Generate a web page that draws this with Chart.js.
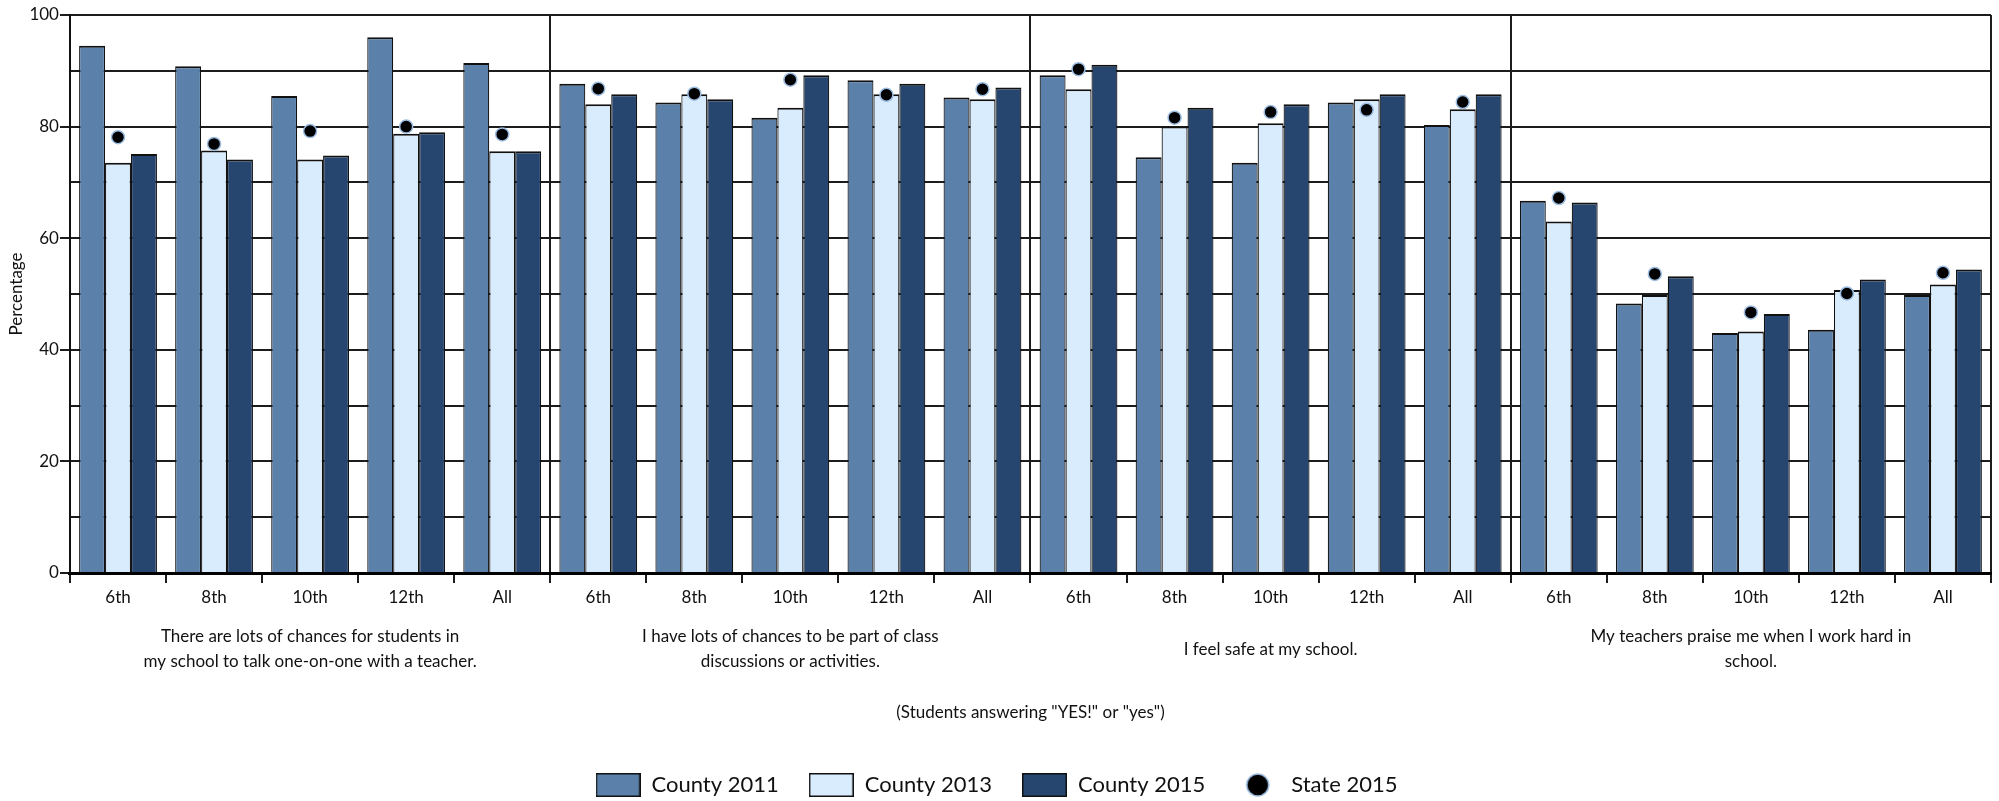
<!DOCTYPE html>
<html>
<head>
<meta charset="utf-8">
<script src="https://cdn.jsdelivr.net/npm/chart.js@4"></script>
<style>
  html, body { margin: 0; padding: 0; background: #fff; overflow: hidden; }
  #wrap { width: 1999px; height: 806px; position: relative; }
</style>
</head>
<body>
<div id="wrap"><canvas id="chart"></canvas></div>
<script>
const grades = ['6th', '8th', '10th', '12th', 'All'];
const questions = [
  ['There are lots of chances for students in', 'my school to talk one-on-one with a teacher.'],
  ['I have lots of chances to be part of class', 'discussions or activities.'],
  'I feel safe at my school.',
  ['My teachers praise me when I work hard in', 'school.']
];
const categories = questions.flatMap(() => grades);

const county2011 = [94.5, 90.8, 85.5, 96.0, 91.4, 87.7, 84.3, 81.6, 88.3, 85.2, 89.2, 74.5, 73.5, 84.3, 80.3, 66.7, 48.3, 43.0, 43.6, 49.8];
const county2013 = [73.5, 75.7, 74.1, 78.7, 75.6, 84.0, 85.8, 83.4, 85.8, 84.9, 86.7, 80.0, 80.6, 84.9, 83.1, 63.0, 49.8, 43.3, 50.7, 51.7];
const county2015 = [75.1, 74.1, 74.8, 79.0, 75.6, 85.8, 84.9, 89.2, 87.7, 87.0, 91.1, 83.4, 84.0, 85.8, 85.8, 66.4, 53.2, 46.4, 52.6, 54.4];
const state2015 = [78.1, 76.9, 79.2, 80.0, 78.6, 86.8, 85.9, 88.4, 85.7, 86.7, 90.3, 81.6, 82.6, 83.0, 84.4, 67.2, 53.6, 46.7, 50.1, 53.8];

const c2011 = '#5b81ab';
const c2013 = '#d9ecfd';
const c2015 = '#27466f';
const line = '#1c1c1c';
const font = 'Lato, "Liberation Sans", sans-serif';

// small canvases used as legend symbols
const boxIcon = color => {
  const c = document.createElement('canvas');
  c.width = 45; c.height = 24;
  const g = c.getContext('2d');
  g.fillStyle = '#111';
  g.fillRect(0, 0, 45, 24);
  g.fillStyle = color;
  g.fillRect(1.5, 1.5, 42, 21);
  return c;
};
const dotIcon = () => {
  const c = document.createElement('canvas');
  c.width = 26; c.height = 26;
  const g = c.getContext('2d');
  g.beginPath();
  g.arc(13, 13, 11, 0, Math.PI * 2);
  g.fillStyle = '#000';
  g.fill();
  g.lineWidth = 1.5;
  g.strokeStyle = '#9dbde3';
  g.stroke();
  return c;
};
const legendIcons = [boxIcon(c2011), boxIcon(c2013), boxIcon(c2015), dotIcon()];

const barSet = (label, data, color) => ({
  type: 'bar',
  label,
  data,
  backgroundColor: color,
  borderColor: '#111',
  borderWidth: {top: 2, left: 1.2, right: 1.2, bottom: 0},
  borderSkipped: false,
  categoryPercentage: 0.81,
  barPercentage: 1.0,
  order: 1
});

new Chart(document.getElementById('chart'), {
  data: {
    labels: categories,
    datasets: [
      barSet('County 2011', county2011, c2011),
      barSet('County 2013', county2013, c2013),
      barSet('County 2015', county2015, c2015),
      {
        type: 'line',
        label: 'State 2015',
        data: state2015,
        showLine: false,
        pointRadius: 6.5,
        pointBackgroundColor: '#000',
        pointBorderColor: '#9dbde3',
        pointBorderWidth: 1.5,
        order: 0
      }
    ]
  },
  options: {
    responsive: true,
    maintainAspectRatio: false,
    animation: false,
    layout: {padding: {left: 2, right: 8, top: 15, bottom: 0}},
    plugins: {
      tooltip: {enabled: false},
      legend: {
        position: 'bottom',
        labels: {
          usePointStyle: true,
          pointStyleWidth: 45,
          padding: 30,
          color: '#111',
          font: {family: font, size: 22},
          sort: (a, b) => a.datasetIndex - b.datasetIndex,
          generateLabels: chart => Chart.defaults.plugins.legend.labels.generateLabels(chart).map(item => {
            item.pointStyle = legendIcons[item.datasetIndex];
            return item;
          })
        }
      }
    },
    scales: {
      x: {
        type: 'category',
        position: 'bottom',
        weight: 0,
        afterFit: s => { s.height = 34; },
        grid: {
          offset: true,
          color: c => (c.index === undefined || c.index % 5 === 0) ? line : 'rgba(0,0,0,0)',
          lineWidth: 2,
          tickLength: 10,
          tickColor: line,
          tickWidth: 2
        },
        border: {color: '#000', width: 3},
        ticks: {
          autoSkip: false,
          maxRotation: 0,
          padding: 4,
          color: '#111',
          font: {family: font, size: 17}
        }
      },
      groups: {
        type: 'category',
        position: 'bottom',
        weight: 1,
        labels: questions,
        offset: true,
        afterFit: s => { s.height = 137; },
        grid: {display: false, drawTicks: false},
        border: {display: false},
        ticks: {
          autoSkip: false,
          maxRotation: 0,
          padding: 30,
          crossAlign: 'center',
          color: '#111',
          font: {family: font, size: 17, lineHeight: 1.47}
        },
        title: {
          display: true,
          text: '(Students answering "YES!" or "yes")',
          color: '#111',
          font: {family: font, size: 17},
          padding: {top: 0, bottom: 21}
        }
      },
      y: {
        min: 0,
        max: 100,
        grid: {
          color: line,
          lineWidth: 2,
          tickLength: 10,
          tickWidth: 2,
          tickColor: c => (c.tick && c.tick.value % 20 === 0) ? line : 'rgba(0,0,0,0)'
        },
        border: {color: '#111', width: 2},
        ticks: {
          stepSize: 10,
          padding: 1,
          color: '#111',
          font: {family: font, size: 17},
          callback: v => v % 20 === 0 ? v : ''
        },
        title: {
          display: true,
          text: 'Percentage',
          color: '#111',
          font: {family: font, size: 17},
          padding: {top: 4, bottom: 2}
        }
      }
    }
  }
});
</script>
</body>
</html>
